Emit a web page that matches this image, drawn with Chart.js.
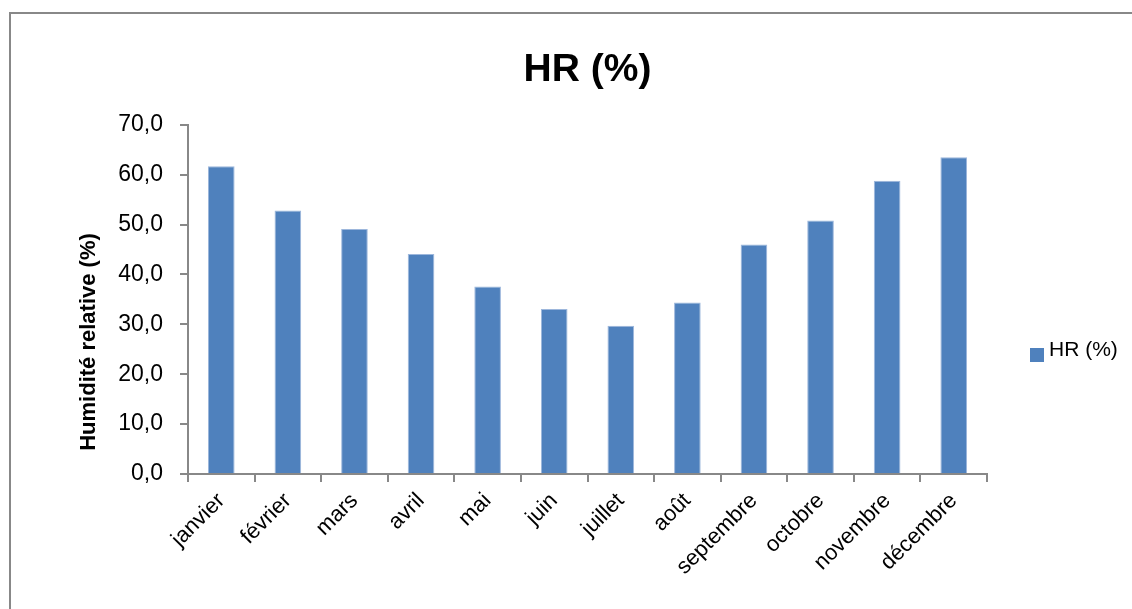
<!DOCTYPE html>
<html lang="fr">
<head>
<meta charset="utf-8">
<title>HR (%)</title>
<script src="https://cdn.jsdelivr.net/npm/chart.js@4.4.1/dist/chart.umd.min.js"></script>
<style>
  html, body { margin: 0; padding: 0; background: #fff; }
  body { width: 1132px; height: 609px; position: relative; overflow: hidden; font-family: "Liberation Sans", Arial, sans-serif; }
  #cadre { position: absolute; left: 9px; top: 12px; width: 1200px; height: 700px; border: 2px solid #888; }
  #wrap { position: absolute; left: 0; top: 0; width: 1132px; height: 609px; }
  #legende { position: absolute; left: 1030px; top: 338px; font-size: 21px; color: #000; }
  #legende .boite { position: absolute; left: 0; top: 10px; width: 14px; height: 14px; }
  #legende .txt { position: absolute; left: 19px; top: 0; line-height: 21px; white-space: nowrap; }
</style>
</head>
<body>
<div id="cadre"></div>
<div id="wrap"><canvas id="hrChart" width="1132" height="609"></canvas></div>
<div id="legende"></div>
<script>
// Données
const mois = ['janvier', 'février', 'mars', 'avril', 'mai', 'juin', 'juillet', 'août', 'septembre', 'octobre', 'novembre', 'décembre'];
const humidite = [61.7, 52.8, 49.1, 44.1, 37.6, 33.1, 29.7, 34.4, 46.0, 50.8, 58.8, 63.5];
const yMin = 0;
const yMax = 70;
const yPas = 10;

const axeCouleur = '#888888';
const police = '"Liberation Sans", Arial, sans-serif';

// titre de l'axe Y décalé vers le bas comme dans Excel
const titreAxeY = {
  id: 'titreAxeY',
  afterDraw(chart) {
    const ctx = chart.ctx;
    ctx.save();
    ctx.translate(89, 342);
    ctx.rotate(-Math.PI / 2);
    ctx.font = 'bold 22px ' + police;
    ctx.fillStyle = '#000';
    ctx.textAlign = 'center';
    ctx.textBaseline = 'middle';
    ctx.fillText('Humidité relative (%)', 0, 0);
    ctx.restore();
  }
};

// légende HTML construite à partir des datasets
const legendeHtml = {
  id: 'legendeHtml',
  afterUpdate(chart) {
    const el = document.getElementById('legende');
    const items = chart.options.plugins.legend.labels.generateLabels(chart);
    el.innerHTML = '';
    items.forEach(it => {
      const b = document.createElement('span');
      b.className = 'boite';
      b.style.background = it.fillStyle;
      const t = document.createElement('span');
      t.className = 'txt';
      t.textContent = it.text;
      el.appendChild(b);
      el.appendChild(t);
    });
  }
};

new Chart(document.getElementById('hrChart'), {
  type: 'bar',
  data: {
    labels: mois,
    datasets: [{
      label: 'HR (%)',
      data: humidite,
      backgroundColor: '#4F81BD',
      borderColor: '#9DB7DC',
      borderWidth: 1,
      barPercentage: 0.4,
      categoryPercentage: 1.0
    }]
  },
  options: {
    responsive: false,
    animation: false,
    layout: { padding: { left: 108, right: 145, top: 0, bottom: 0 } },
    plugins: {
      legend: { display: false },
      tooltip: { enabled: false },
      title: {
        display: true,
        text: 'HR (%)',
        fullSize: false,
        color: '#000',
        font: { family: police, size: 39, weight: 'bold' },
        padding: { top: 47, bottom: 31 }
      }
    },
    scales: {
      x: {
        grid: { offset: true, drawOnChartArea: false, tickLength: 8, color: axeCouleur, lineWidth: 2 },
        border: { color: axeCouleur, width: 2 },
        ticks: {
          color: '#000',
          font: { family: police, size: 22 },
          minRotation: 45,
          maxRotation: 45,
          padding: 6,
          autoSkip: false
        },
        afterFit(scale) { scale.height = 135; }
      },
      y: {
        min: yMin,
        max: yMax,
        grid: { drawOnChartArea: false, tickLength: 8, color: axeCouleur, lineWidth: 2 },
        border: { color: axeCouleur, width: 2 },
        ticks: {
          stepSize: yPas,
          color: '#000',
          font: { family: police, size: 23 },
          padding: 17,
          callback: v => v.toFixed(1).replace('.', ',')
        },
        afterFit(scale) { scale.width = 80; }
      }
    }
  },
  plugins: [titreAxeY, legendeHtml]
});
</script>
</body>
</html>
